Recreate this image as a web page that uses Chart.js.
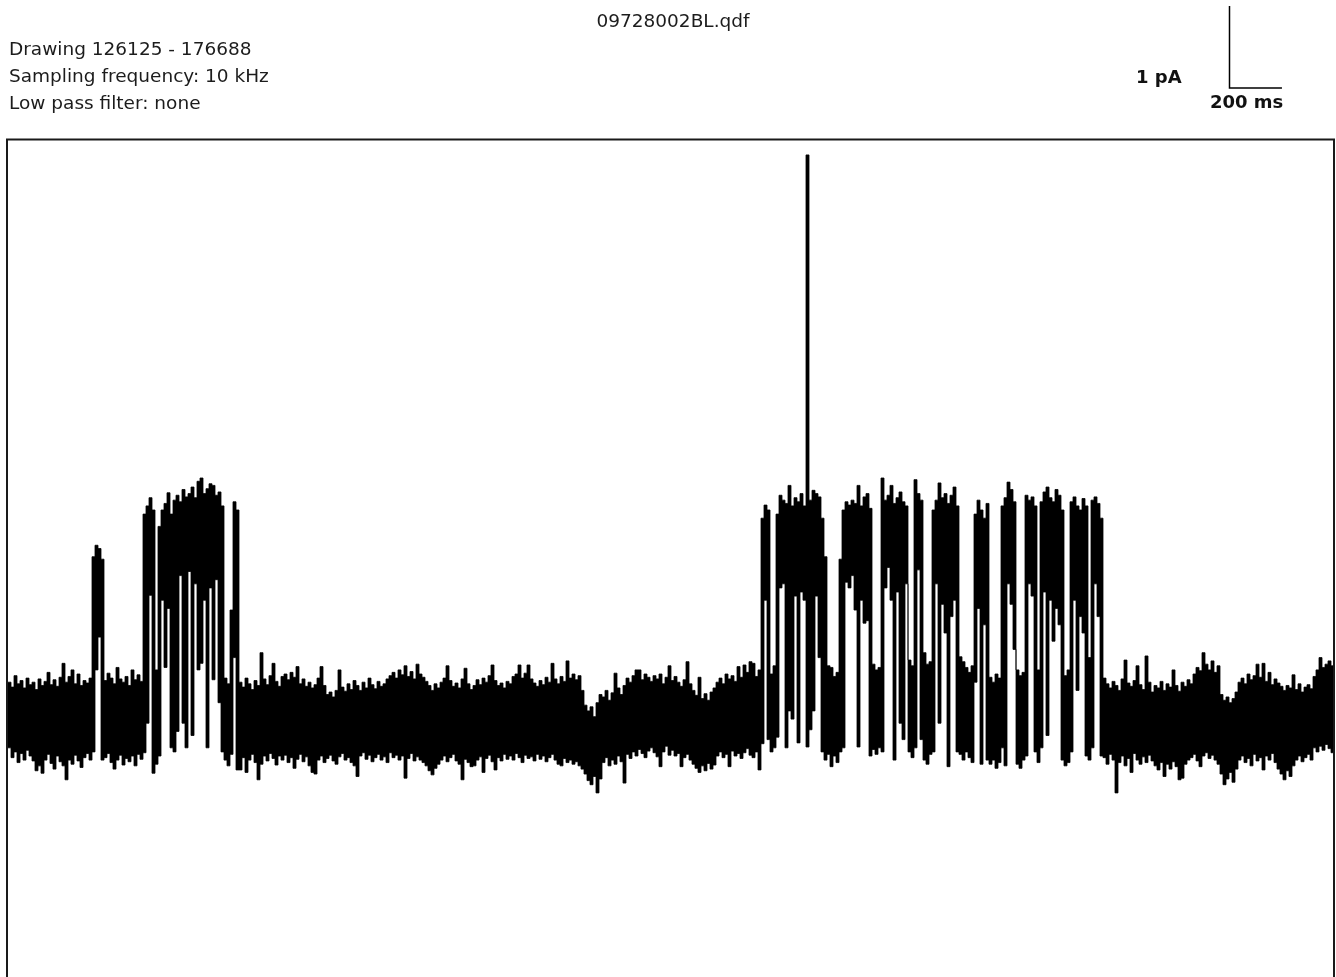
<!DOCTYPE html>
<html>
<head>
<meta charset="utf-8">
<title>09728002BL.qdf</title>
<script src="https://cdn.jsdelivr.net/npm/chart.js@4.4.1/dist/chart.umd.min.js"></script>
<style>
  html, body { margin: 0; padding: 0; background: #fff; overflow: hidden; }
  #wrap { position: relative; width: 1336px; height: 977px; }
  #wrap canvas { position: absolute; left: 0; top: 0; }
  .lbl { position: absolute; font-family: "DejaVu Sans", sans-serif; color: #1c1c1c;
         white-space: nowrap; line-height: 1; }
  .info { left: 9px; font-size: 18.5px; }
  .bar { font-weight: bold; font-size: 18px; color: #111; }
</style>
</head>
<body>
<div id="wrap">
  <canvas id="trace" width="1336" height="977"></canvas>
  <div class="lbl" id="fileName" style="left:673px;top:12px;font-size:18.5px;transform:translateX(-50%)"></div>
  <div class="lbl info" id="infoRange" style="top:40px"></div>
  <div class="lbl info" id="infoRate" style="top:67px"></div>
  <div class="lbl info" id="infoFilter" style="top:94px"></div>
  <div class="lbl bar" id="barY" style="left:1136px;top:68px"></div>
  <div class="lbl bar" id="barX" style="left:1210px;top:93px"></div>
</div>
<script>
// Recording metadata
const fileName = "09728002BL.qdf";
const sampleRange = [126125, 176688];
const samplingKHz = 10;
const lowPassFilter = "none";

// Scale-bar sizes
const scaleBarPA = 1;
const scaleBarMs = 200;

// Trace decimated to 442 display columns: per column the maximum and the
// minimum current (pA), in time order. Closed level ~0 pA, open level ~2.6 pA.
const colMax = [
  // 0-27 closed
  0.40,0.34,0.48,0.38,0.42,0.33,0.45,0.37,0.40,0.31,
  0.44,0.36,0.41,0.52,0.37,0.43,0.35,0.46,0.63,0.40,
  0.47,0.55,0.38,0.50,0.36,0.42,0.39,0.45,
  // 28-31 short opening
  1.93,2.07,2.03,1.90,
  // 32-44 closed
  0.42,0.51,0.45,0.38,0.58,0.44,0.40,0.47,0.36,0.55,0.43,0.49,0.41,
  // 45-76 first burst
  2.45,2.55,2.65,2.50,0.55,2.30,2.50,2.58,2.71,2.45,
  2.62,2.68,2.60,2.75,2.66,2.70,2.78,2.65,2.85,2.89,
  2.70,2.76,2.82,2.80,2.68,2.72,2.55,0.45,0.38,1.28,
  2.60,2.50,
  // 77-191 closed
  0.40,0.34,0.45,0.38,0.31,0.42,0.36,0.76,0.44,0.37,
  0.48,0.63,0.41,0.35,0.47,0.50,0.43,0.52,0.46,0.59,
  0.38,0.44,0.35,0.40,0.33,0.37,0.45,0.59,0.36,0.25,
  0.28,0.22,0.30,0.55,0.34,0.29,0.38,0.31,0.42,0.36,
  0.30,0.40,0.33,0.45,0.37,0.32,0.41,0.35,0.38,0.44,
  0.48,0.52,0.45,0.55,0.49,0.60,0.47,0.53,0.44,0.62,
  0.50,0.46,0.41,0.36,0.30,0.38,0.33,0.40,0.45,0.60,
  0.42,0.35,0.39,0.33,0.44,0.57,0.38,0.31,0.36,0.43,
  0.37,0.45,0.40,0.48,0.61,0.42,0.36,0.39,0.33,0.41,
  0.38,0.47,0.50,0.61,0.45,0.51,0.61,0.44,0.39,0.35,
  0.42,0.37,0.46,0.40,0.63,0.44,0.38,0.47,0.41,0.66,
  0.45,0.50,0.43,0.48,0.30,
  // 192-197 baseline dip
  0.12,0.05,0.10,-0.02,0.15,0.25,
  // 198-250 closed
  0.22,0.30,0.18,0.27,0.51,0.33,0.25,0.36,
  0.45,0.40,0.48,0.55,0.55,0.43,0.50,0.46,
  0.41,0.48,0.44,0.50,0.38,0.46,0.60,0.42,0.47,0.40,
  0.35,0.43,0.65,0.38,0.30,
  0.24,0.46,0.20,0.26,0.18,0.28,0.33,
  0.40,0.45,0.38,0.50,0.44,0.48,0.41,0.59,0.46,0.61,0.52,0.65,0.63,0.47,0.55,
  // 251-364 second burst
  2.40,2.56,2.50,0.50,0.60,2.45,2.68,2.62,2.58,2.80,
  2.55,2.65,2.60,2.70,2.55,6.83,2.62,2.74,2.70,2.66,
  2.40,1.93,0.60,0.58,0.47,0.52,1.90,2.50,2.60,2.56,
  2.62,2.58,2.80,2.55,2.66,2.70,2.52,0.62,0.55,0.58,
  2.89,2.62,2.68,2.80,2.58,2.65,2.72,2.60,2.55,0.67,
  0.60,2.87,2.70,2.62,0.76,0.62,0.65,2.50,2.62,2.83,
  2.65,2.70,2.58,2.68,2.78,2.55,0.71,0.65,0.58,0.52,
  0.60,2.45,2.62,2.50,2.40,2.58,0.46,0.40,0.50,0.45,
  2.55,2.65,2.84,2.75,2.60,0.55,0.48,0.52,2.68,2.62,
  2.66,2.55,0.55,2.60,2.72,2.78,2.65,2.60,2.75,2.68,
  2.50,0.48,0.55,2.60,2.66,2.55,2.50,2.64,2.55,0.70,
  2.62,2.66,2.58,2.40,
  // 365-441 closed
  0.45,0.38,0.33,0.41,0.36,0.30,0.44,0.67,0.39,0.35,
  0.42,0.60,0.37,0.31,0.72,0.40,0.28,0.36,0.33,0.41,
  0.30,0.38,0.34,0.55,0.36,0.29,0.40,0.35,0.43,0.38,
  0.50,0.58,0.54,0.76,0.62,0.55,0.66,0.52,0.60,0.25,
  0.18,0.22,0.15,0.20,0.28,0.40,0.45,0.38,0.50,0.43,
  0.48,0.62,0.46,0.63,0.41,0.52,0.37,0.44,0.39,0.35,
  0.30,0.36,0.33,0.49,0.31,0.38,0.28,0.34,0.37,0.32,
  0.47,0.55,0.70,0.58,0.62,0.66,0.60
];

const colMin = [
  // 0-27
  -0.40,-0.52,-0.45,-0.58,-0.47,-0.55,-0.43,-0.50,-0.56,-0.68,
  -0.62,-0.71,-0.55,-0.48,-0.59,-0.66,-0.50,-0.57,-0.62,-0.79,
  -0.55,-0.60,-0.49,-0.56,-0.64,-0.52,-0.47,-0.55,
  // 28-31
  -0.45,0.55,0.95,-0.55,
  // 32-44
  -0.52,-0.47,-0.58,-0.66,-0.55,-0.49,-0.61,-0.53,-0.57,-0.50,-0.62,-0.48,-0.54,
  // 45-76
  -0.46,-0.10,1.46,-0.71,-0.60,-0.50,1.40,0.58,1.30,-0.40,
  -0.45,-0.20,1.70,-0.10,-0.40,1.75,-0.25,1.60,0.55,0.63,
  1.40,-0.40,1.55,0.43,1.65,0.15,-0.45,-0.55,-0.62,-0.48,
  0.70,-0.67,
  // 77-191
  -0.67,-0.52,-0.70,-0.55,-0.48,-0.58,-0.79,-0.60,-0.50,-0.56,
  -0.47,-0.53,-0.61,-0.50,-0.55,-0.49,-0.58,-0.52,-0.65,-0.54,
  -0.48,-0.57,-0.51,-0.62,-0.70,-0.72,-0.55,-0.50,-0.58,-0.53,
  -0.49,-0.56,-0.60,-0.51,-0.47,-0.55,-0.52,-0.58,-0.62,-0.75,
  -0.50,-0.46,-0.54,-0.49,-0.57,-0.52,-0.48,-0.55,-0.51,-0.58,
  -0.46,-0.52,-0.49,-0.55,-0.50,-0.77,-0.53,-0.47,-0.56,-0.51,
  -0.55,-0.58,-0.62,-0.68,-0.73,-0.65,-0.60,-0.55,-0.50,-0.57,
  -0.52,-0.48,-0.56,-0.60,-0.79,-0.54,-0.58,-0.63,-0.62,-0.55,
  -0.51,-0.70,-0.53,-0.49,-0.57,-0.67,-0.52,-0.56,-0.48,-0.54,
  -0.50,-0.55,-0.47,-0.52,-0.58,-0.49,-0.53,-0.51,-0.56,-0.48,
  -0.54,-0.50,-0.57,-0.52,-0.48,-0.55,-0.60,-0.62,-0.53,-0.58,
  -0.55,-0.60,-0.57,-0.62,-0.66,
  // 192-197
  -0.72,-0.80,-0.85,-0.75,-0.95,-0.78,
  // 198-250
  -0.58,-0.52,-0.62,-0.55,-0.60,-0.50,-0.57,-0.83,
  -0.48,-0.53,-0.45,-0.50,-0.42,-0.47,-0.52,-0.44,
  -0.40,-0.46,-0.51,-0.63,-0.45,-0.38,-0.49,-0.43,-0.50,-0.47,
  -0.63,-0.52,-0.48,-0.55,-0.60,
  -0.65,-0.70,-0.62,-0.68,-0.59,-0.66,-0.61,
  -0.50,-0.45,-0.52,-0.48,-0.63,-0.44,-0.50,-0.47,-0.53,-0.46,-0.41,-0.49,-0.52,-0.45,-0.67,
  // 251-364
  -0.35,1.40,-0.30,-0.45,-0.40,-0.27,1.55,1.60,-0.40,0.05,
  -0.05,1.45,-0.34,1.50,1.40,-0.39,-0.18,0.05,1.45,0.70,
  -0.45,-0.55,-0.48,-0.63,-0.50,-0.58,-0.45,-0.40,1.62,1.55,
  1.70,1.28,-0.39,1.40,1.12,1.15,-0.50,-0.42,-0.48,-0.40,
  -0.45,1.55,1.80,1.40,-0.55,1.50,-0.10,-0.30,1.60,-0.45,
  -0.52,-0.40,1.77,-0.30,-0.55,-0.60,-0.48,-0.45,1.60,-0.10,
  1.35,1.00,-0.63,1.20,1.40,-0.45,-0.48,-0.55,-0.45,-0.52,
  -0.58,0.40,1.30,-0.60,1.10,-0.55,-0.60,-0.55,-0.65,-0.58,
  -0.40,-0.62,1.60,1.35,0.80,-0.60,-0.65,-0.55,-0.50,1.60,
  1.45,-0.45,-0.58,-0.40,1.50,-0.25,1.40,0.90,1.30,1.10,
  -0.55,-0.62,-0.58,-0.45,1.40,0.30,1.20,1.00,-0.50,-0.55,
  -0.40,1.60,1.20,-0.50,
  // 365-441
  -0.52,-0.60,-0.48,-0.55,-0.95,-0.58,-0.50,-0.62,-0.53,-0.70,
  -0.47,-0.55,-0.60,-0.51,-0.58,-0.49,-0.56,-0.62,-0.67,-0.58,
  -0.75,-0.60,-0.66,-0.57,-0.63,-0.79,-0.77,-0.60,-0.55,-0.52,
  -0.48,-0.56,-0.63,-0.50,-0.46,-0.53,-0.49,-0.55,-0.60,-0.72,
  -0.85,-0.78,-0.70,-0.82,-0.66,-0.55,-0.50,-0.58,-0.53,-0.62,
  -0.48,-0.56,-0.52,-0.67,-0.50,-0.55,-0.47,-0.58,-0.66,-0.72,
  -0.79,-0.68,-0.75,-0.62,-0.55,-0.50,-0.57,-0.52,-0.48,-0.55,
  -0.40,-0.45,-0.38,-0.43,-0.36,-0.41,-0.46
];

// Visible current window (pA)
const yRange = [-3.195, 7.012];

// ---- derived values ----
const durationMs = (sampleRange[1] - sampleRange[0]) / samplingKHz;
const nCols = Math.min(colMax.length, colMin.length);
const colMs = durationMs / nCols;

// Each column holds its value for one column width (stepped line); the area
// between the max and the min line is filled, giving the solid trace band.
function columnPoints(values) {
  const pts = [];
  for (let k = 0; k < nCols; k++) pts.push({ x: k * colMs, y: values[k] });
  pts.push({ x: nCols * colMs, y: values[nCols - 1] });
  return pts;
}

document.getElementById('fileName').textContent = fileName;
document.getElementById('infoRange').textContent = 'Drawing ' + sampleRange[0] + ' - ' + sampleRange[1];
document.getElementById('infoRate').textContent = 'Sampling frequency: ' + samplingKHz + ' kHz';
document.getElementById('infoFilter').textContent = 'Low pass filter: ' + lowPassFilter;
document.getElementById('barY').textContent = scaleBarPA + ' pA';
document.getElementById('barX').textContent = scaleBarMs + ' ms';

// Frame on three sides plus the L-shaped scale bar
const framePlugin = {
  id: 'frameAndScaleBar',
  afterDraw(chart) {
    const { ctx, chartArea: a, scales: { x, y } } = chart;
    ctx.save();
    ctx.strokeStyle = '#1a1a1a';
    ctx.lineWidth = 2;
    ctx.beginPath();
    ctx.moveTo(a.left - 1, chart.height);
    ctx.lineTo(a.left - 1, a.top - 0.5);
    ctx.lineTo(a.right, a.top - 0.5);
    ctx.lineTo(a.right, chart.height);
    ctx.stroke();

    // scale bar, sized by the axes
    const hLen = x.getPixelForValue(scaleBarMs) - x.getPixelForValue(0);
    const vLen = y.getPixelForValue(0) - y.getPixelForValue(scaleBarPA);
    const cx = 1229.5, cy = 88;
    ctx.strokeStyle = '#000';
    ctx.lineWidth = 1.5;
    ctx.beginPath();
    ctx.moveTo(cx, cy - vLen);
    ctx.lineTo(cx, cy);
    ctx.lineTo(cx + hLen, cy);
    ctx.stroke();
    ctx.restore();
  }
};

new Chart(document.getElementById('trace'), {
  type: 'line',
  data: {
    datasets: [
      {
        label: 'max',
        data: columnPoints(colMax),
        stepped: true,
        borderColor: '#000',
        borderWidth: 0.8,
        backgroundColor: '#000',
        pointRadius: 0,
        fill: '+1'
      },
      {
        label: 'min',
        data: columnPoints(colMin),
        stepped: true,
        borderColor: '#000',
        borderWidth: 0.8,
        pointRadius: 0,
        fill: false
      }
    ]
  },
  options: {
    responsive: false,
    devicePixelRatio: 1,
    animation: false,
    events: [],
    parsing: false,
    normalized: true,
    layout: { padding: { left: 8, right: 2, top: 140, bottom: 0 } },
    scales: {
      x: { type: 'linear', display: false, min: 0, max: durationMs },
      y: { type: 'linear', display: false, min: yRange[0], max: yRange[1] }
    },
    plugins: {
      legend: { display: false },
      tooltip: { enabled: false },
      filler: { propagate: false }
    }
  },
  plugins: [framePlugin]
});
</script>
</body>
</html>
